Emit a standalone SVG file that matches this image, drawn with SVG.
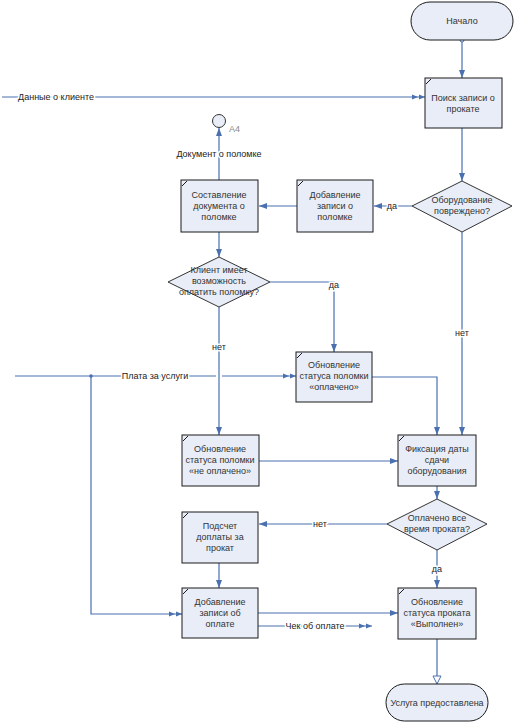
<svg xmlns="http://www.w3.org/2000/svg" width="514" height="723" viewBox="0 0 514 723">
<style>
.bg{fill:#ffffff}
.box{fill:#e8edf7;stroke:#1a1a1a;stroke-width:1}
.dia{fill:#e8edf7;stroke:#333;stroke-width:1}
.corner{stroke:#1a1a1a;stroke-width:1}
.ln{fill:none;stroke:#4a70b0;stroke-width:1.2}
.t{font-family:"Liberation Sans",Arial,sans-serif;font-size:9px;fill:#333;text-anchor:middle}
.lb{font-family:"Liberation Sans",Arial,sans-serif;font-size:9px;fill:#222;text-anchor:middle;stroke:#fff;stroke-width:3;paint-order:stroke}
.gray{font-family:"Liberation Sans",Arial,sans-serif;font-size:9px;fill:#888}
</style>
<defs>
<marker id="arr" viewBox="0 0 8 8" refX="8" refY="4" markerWidth="8" markerHeight="8" markerUnits="userSpaceOnUse" orient="auto"><path d="M0,1 L8,4 L0,7 z" fill="#4a70b0"/></marker>
<marker id="arr2" viewBox="0 0 14 8" refX="13" refY="4" markerWidth="14" markerHeight="8" markerUnits="userSpaceOnUse" orient="auto"><path d="M0,1.5 L6,4 L0,6.5 z M7,1.5 L13,4 L7,6.5 z" fill="#4a70b0"/></marker>
<marker id="hol" viewBox="0 0 10 10" refX="9" refY="5" markerWidth="10" markerHeight="10" markerUnits="userSpaceOnUse" orient="auto"><path d="M1,1 L9,5 L1,9 z" fill="#fff" stroke="#4a70b0" stroke-width="1"/></marker>
</defs>
<rect class="bg" x="0" y="0" width="514" height="723"/>

<g id="connectors">
<path class="ln" d="M462,40 V78" marker-end="url(#arr)"/>
<circle cx="462" cy="40" r="2" fill="#fff" stroke="#4a70b0"/>
<path class="ln" d="M2,97 H425" marker-end="url(#arr2)"/>
<path class="ln" d="M462,128 V181" marker-end="url(#arr)"/>
<path class="ln" d="M412,206 H374" marker-end="url(#arr)"/>
<path class="ln" d="M297,206 H259" marker-end="url(#arr)"/>
<path class="ln" d="M219,180 V128" marker-end="url(#arr)"/>
<path class="ln" d="M219,232 V257" marker-end="url(#arr)"/>
<path class="ln" d="M270,282 H334 V352" marker-end="url(#arr)"/>
<path class="ln" d="M219,307 V435" marker-end="url(#arr)"/>
<path class="ln" d="M15,376 H216"/>
<path class="ln" d="M222,376 H296" marker-end="url(#arr2)"/>
<circle cx="91" cy="376" r="1.8" fill="#4a70b0"/>
<path class="ln" d="M91,376 V614 H182" marker-end="url(#arr2)"/>
<path class="ln" d="M372,377 H437 V435" marker-end="url(#arr)"/>
<path class="ln" d="M462,232 V435" marker-end="url(#arr)"/>
<path class="ln" d="M259,461 H398" marker-end="url(#arr)"/>
<path class="ln" d="M437,486 V499" marker-end="url(#arr)"/>
<path class="ln" d="M387,524 H259" marker-end="url(#arr)"/>
<path class="ln" d="M219,563 V588" marker-end="url(#arr)"/>
<path class="ln" d="M258,613 H398" marker-end="url(#arr)"/>
<path class="ln" d="M258,626 H372" marker-end="url(#arr2)"/>
<path class="ln" d="M437,550 V588" marker-end="url(#arr)"/>
<path class="ln" d="M437,639 V684" marker-end="url(#hol)"/>
<text class="lb" x="56" y="100">Данные о клиенте</text>
<text class="lb" x="392" y="209">да</text>
<text class="lb" x="219" y="157">Документ о поломке</text>
<text class="lb" x="334" y="288">да</text>
<text class="lb" x="219" y="350">нет</text>
<text class="lb" x="155" y="379">Плата за услуги</text>
<text class="lb" x="462" y="336">нет</text>
<text class="lb" x="320" y="527">нет</text>
<text class="lb" x="437" y="572">да</text>
<text class="lb" x="315" y="629">Чек об оплате</text>
</g>

<g id="start">
<rect x="411" y="2" width="102" height="38" rx="19" ry="19" class="box"/>
<text class="t" x="462" y="24">Начало</text>
</g>

<g id="poisk">
<rect x="425" y="78" width="77" height="50" class="box"/>
<line x1="426" y1="84" x2="431" y2="79" class="corner"/>
<text class="t" x="463" y="101">Поиск записи о</text>
<text class="t" x="463" y="112">прокате</text>
</g>

<g id="d_povrezhdeno">
<polygon points="462,181 512,206 462,232 412,206" class="dia"/>
<text class="t" x="462" y="203">Оборудование</text>
<text class="t" x="462" y="214">повреждено?</text>
</g>

<g id="dobavlenie_polomki">
<rect x="297" y="180" width="76" height="52" class="box"/>
<line x1="298" y1="186" x2="303" y2="181" class="corner"/>
<text class="t" x="335" y="198">Добавление</text>
<text class="t" x="335" y="209">записи о</text>
<text class="t" x="335" y="220">поломке</text>
</g>

<g id="sostavlenie">
<rect x="181" y="180" width="77" height="52" class="box"/>
<line x1="182" y1="186" x2="187" y2="181" class="corner"/>
<text class="t" x="219" y="198">Составление</text>
<text class="t" x="219" y="209">документа о</text>
<text class="t" x="219" y="220">поломке</text>
</g>

<g id="a4">
<circle cx="219" cy="121" r="6.5" fill="#e8edf7" stroke="#333"/>
<text class="gray" x="229" y="132">A4</text>
</g>

<g id="d_klient">
<polygon points="219,257 270,282 219,307 168,282" class="dia"/>
<text class="t" x="219" y="273">Клиент имеет</text>
<text class="t" x="219" y="284">возможность</text>
<text class="t" x="219" y="295">оплатить поломку?</text>
</g>

<g id="oplacheno">
<rect x="296" y="352" width="76" height="50" class="box"/>
<line x1="297" y1="358" x2="302" y2="353" class="corner"/>
<text class="t" x="334" y="368">Обновление</text>
<text class="t" x="334" y="379">статуса поломки</text>
<text class="t" x="334" y="390">«оплачено»</text>
</g>

<g id="ne_oplacheno">
<rect x="182" y="435" width="77" height="51" class="box"/>
<line x1="183" y1="441" x2="188" y2="436" class="corner"/>
<text class="t" x="220" y="452">Обновление</text>
<text class="t" x="220" y="463">статуса поломки</text>
<text class="t" x="220" y="474">«не оплачено»</text>
</g>

<g id="fiksaciya">
<rect x="398" y="435" width="78" height="51" class="box"/>
<line x1="399" y1="441" x2="404" y2="436" class="corner"/>
<text class="t" x="437" y="452">Фиксация даты</text>
<text class="t" x="437" y="463">сдачи</text>
<text class="t" x="437" y="474">оборудования</text>
</g>

<g id="d_oplacheno_vse">
<polygon points="437,499 487,524 437,550 387,524" class="dia"/>
<text class="t" x="437" y="521">Оплачено все</text>
<text class="t" x="437" y="532">время проката?</text>
</g>

<g id="podschet">
<rect x="182" y="512" width="76" height="51" class="box"/>
<line x1="183" y1="518" x2="188" y2="513" class="corner"/>
<text class="t" x="220" y="529">Подсчет</text>
<text class="t" x="220" y="540">доплаты за</text>
<text class="t" x="220" y="551">прокат</text>
</g>

<g id="dobavlenie_oplaty">
<rect x="182" y="588" width="76" height="50" class="box"/>
<line x1="183" y1="594" x2="188" y2="589" class="corner"/>
<text class="t" x="220" y="605">Добавление</text>
<text class="t" x="220" y="616">записи об</text>
<text class="t" x="220" y="627">оплате</text>
</g>

<g id="vypolnen">
<rect x="398" y="588" width="78" height="51" class="box"/>
<line x1="399" y1="594" x2="404" y2="589" class="corner"/>
<text class="t" x="437" y="605">Обновление</text>
<text class="t" x="437" y="616">статуса проката</text>
<text class="t" x="437" y="627">«Выполнен»</text>
</g>

<g id="end">
<rect x="386" y="684" width="102" height="37" rx="18.5" ry="18.5" class="box"/>
<text class="t" x="437" y="706">Услуга предоставлена</text>
</g>
</svg>
